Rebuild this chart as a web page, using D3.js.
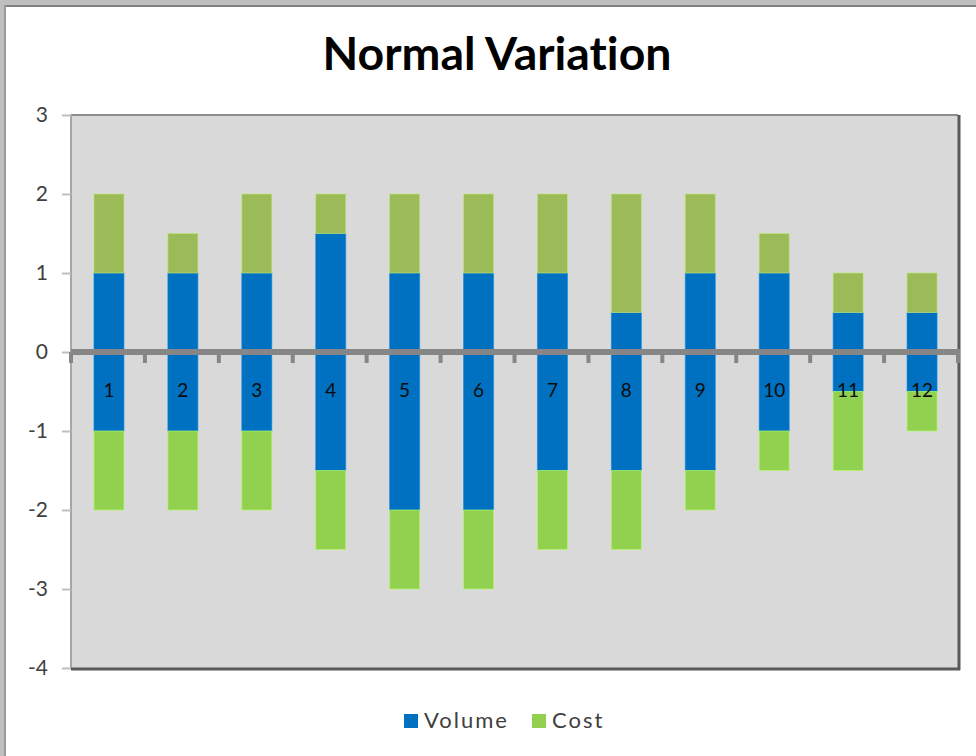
<!DOCTYPE html>
<html>
<head>
<meta charset="utf-8">
<script src="https://cdn.jsdelivr.net/npm/d3@7/dist/d3.min.js"></script>
<style>
  html, body { margin: 0; padding: 0; background: #fff; }
  svg { display: block; }
  text { font-variant-ligatures: none; }
</style>
</head>
<body>
<svg id="chart" width="976" height="756"></svg>
<script>
// Period labels along the zero line
const categories = ["1", "2", "3", "4", "5", "6", "7", "8", "9", "10", "11", "12"];
// Favourable (above zero) and unfavourable (below zero) parts of each series
const volumeUp   = [1, 1, 1, 1.5, 1, 1, 1, 0.5, 1, 1, 0.5, 0.5];
const costUp     = [1, 0.5, 1, 0.5, 1, 1, 1, 1.5, 1, 0.5, 0.5, 0.5];
const volumeDown = [-1, -1, -1, -1.5, -2, -2, -1.5, -1.5, -1.5, -1, -0.5, -0.5];
const costDown   = [-1, -1, -1, -1, -1, -1, -1, -1, -0.5, -0.5, -1, -0.5];
const yTicks = [3, 2, 1, 0, -1, -2, -3, -4];
const legendItems = ["Volume", "Cost"];

const svg = d3.select("#chart");
const W = 976, H = 756;
const plot = { left: 71, right: 958, top: 115, bottom: 668 };
const font = "Lato, 'Open Sans', sans-serif";

const colors = {
  volumeUp: "#0070C0",
  volumeDown: "#0070C0",
  costUp: "#9BBB59",
  costDown: "#92D050"
};
const legendColors = { Volume: "#0070C0", Cost: "#92D050" };

// Outer chart frame
svg.append("rect").attr("x", 0).attr("y", 0).attr("width", W).attr("height", H).attr("fill", "#fff");
svg.append("rect").attr("x", 0).attr("y", 0).attr("width", W).attr("height", 5).attr("fill", "#BFBFBF");
svg.append("rect").attr("x", 0).attr("y", 5).attr("width", W).attr("height", 2).attr("fill", "#808080");
svg.append("rect").attr("x", 0).attr("y", 0).attr("width", 4).attr("height", H).attr("fill", "#BFBFBF");
svg.append("rect").attr("x", 4).attr("y", 5).attr("width", 2).attr("height", H - 5).attr("fill", "#9A9A9A");

// Title
svg.append("text")
  .attr("x", 497).attr("y", 70)
  .attr("text-anchor", "middle")
  .attr("font-family", font)
  .attr("font-weight", 700)
  .attr("font-size", 45)
  .attr("fill", "#000")
  .attr("textLength", 349)
  .attr("lengthAdjust", "spacingAndGlyphs")
  .text("Normal Variation");

const xb = d3.scaleBand().domain(categories.map((c, i) => i)).range([plot.left, plot.right]);
const y = d3.scaleLinear().domain([-4, 3]).range([plot.bottom, plot.top]);

// Plot background
svg.append("rect")
  .attr("x", plot.left).attr("y", plot.top)
  .attr("width", plot.right - plot.left).attr("height", plot.bottom - plot.top)
  .attr("fill", "#D9D9D9");

// Stacked series diverging from zero
const rows = categories.map((c, i) => ({
  i,
  volumeUp: volumeUp[i], volumeDown: volumeDown[i],
  costUp: costUp[i], costDown: costDown[i]
}));
const keys = ["volumeUp", "volumeDown", "costUp", "costDown"];
const stacked = d3.stack().keys(keys).offset(d3.stackOffsetDiverging)(rows);

const bw = 30;
svg.append("g").selectAll("g")
  .data(stacked)
  .join("g")
  .attr("fill", d => colors[d.key])
  .attr("stroke", d => d3.color(colors[d.key]).brighter(0.6))
  .attr("stroke-opacity", 0.6)
  .attr("stroke-width", 1)
  .selectAll("rect")
  .data(d => d)
  .join("rect")
  .attr("x", d => xb(d.data.i) + xb.bandwidth() / 2 - bw / 2 + 1)
  .attr("width", bw)
  .attr("y", d => y(Math.max(d[0], d[1])))
  .attr("height", d => Math.abs(y(d[0]) - y(d[1])));

// Plot borders
svg.append("line").attr("x1", plot.left).attr("x2", plot.right).attr("y1", plot.top).attr("y2", plot.top)
  .attr("stroke", "#8C8C8C").attr("stroke-width", 2);
svg.append("line").attr("x1", plot.left).attr("x2", plot.left).attr("y1", plot.top).attr("y2", plot.bottom)
  .attr("stroke", "#A6A6A6").attr("stroke-width", 2);
svg.append("line").attr("x1", plot.right + 1).attr("x2", plot.right + 1).attr("y1", plot.top).attr("y2", plot.bottom + 2)
  .attr("stroke", "#595959").attr("stroke-width", 3);
svg.append("line").attr("x1", plot.left).attr("x2", plot.right + 2).attr("y1", plot.bottom + 1).attr("y2", plot.bottom + 1)
  .attr("stroke", "#595959").attr("stroke-width", 3);

// Y axis
const yAxis = d3.axisLeft(y).tickValues(yTicks).tickSize(9).tickPadding(14).tickFormat(d => String(d));
const gy = svg.append("g").attr("transform", `translate(${plot.left},0)`).call(yAxis);
gy.select(".domain").remove();
gy.selectAll(".tick line").attr("stroke", "#BFBFBF").attr("stroke-width", 2);
gy.selectAll(".tick text")
  .attr("font-family", font)
  .attr("font-size", 21)
  .attr("fill", "#404040");

// Zero axis with boundary ticks
const zeroY = y(0);
const boundaries = d3.range(categories.length + 1).map(k => k === categories.length ? plot.right : xb(k));
svg.append("g").selectAll("line")
  .data(boundaries)
  .join("line")
  .attr("x1", d => d).attr("x2", d => d)
  .attr("y1", zeroY).attr("y2", zeroY + 11)
  .attr("stroke", "#868686").attr("stroke-width", 4);
svg.append("line")
  .attr("x1", plot.left).attr("x2", plot.right + 2)
  .attr("y1", zeroY).attr("y2", zeroY)
  .attr("stroke", "#868686").attr("stroke-width", 6);

// Category labels just below the zero line
svg.append("g").selectAll("text")
  .data(categories)
  .join("text")
  .attr("x", (d, i) => xb(i) + xb.bandwidth() / 2 + 1)
  .attr("y", zeroY + 45)
  .attr("text-anchor", "middle")
  .attr("font-family", font)
  .attr("font-size", 19)
  .attr("fill", "#0D0D0D")
  .text(d => d);

// Legend
const legend = svg.append("g").attr("transform", "translate(404,713)");
const legendX = [0, 128];
legendItems.forEach((name, i) => {
  const g = legend.append("g").attr("transform", `translate(${legendX[i]},0)`);
  g.append("rect").attr("x", 0).attr("y", 1).attr("width", 14).attr("height", 14).attr("fill", legendColors[name]);
  g.append("text")
    .attr("x", 20).attr("y", 15)
    .attr("font-family", font)
    .attr("font-size", 22)
    .attr("letter-spacing", 2)
    .attr("fill", "#404040")
    .text(name);
});
</script>
</body>
</html>
